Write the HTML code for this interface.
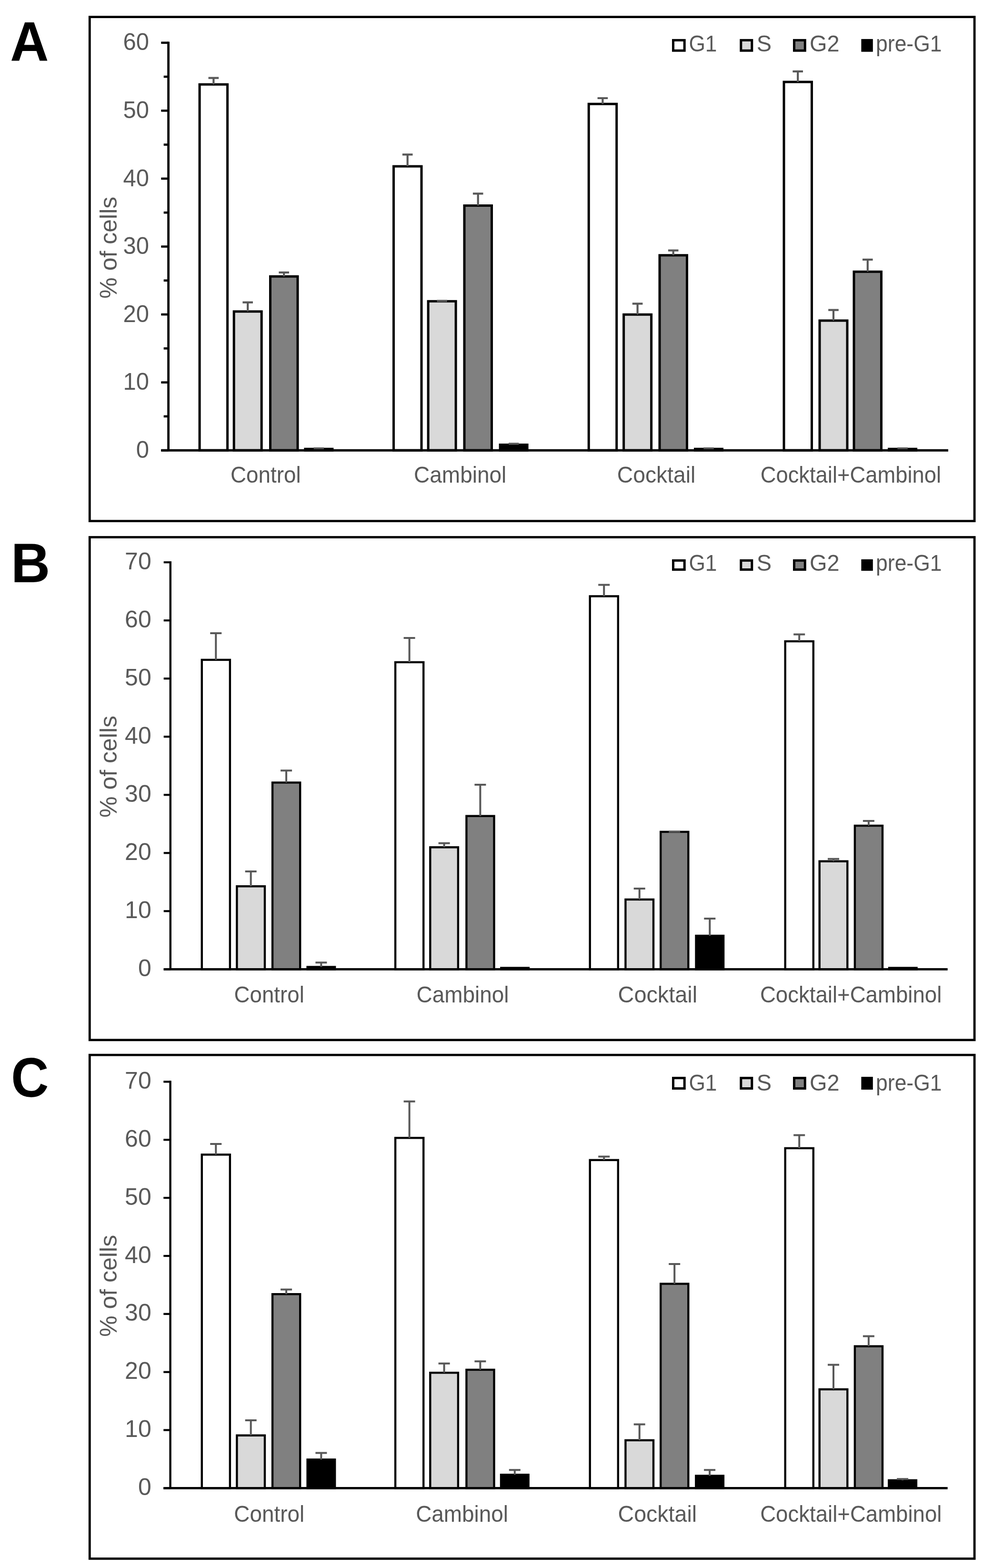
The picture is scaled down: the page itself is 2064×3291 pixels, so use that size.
<!DOCTYPE html>
<html><head><meta charset="utf-8"><title>Cell cycle distribution</title>
<style>html,body{margin:0;padding:0;background:#fff}svg{display:block}text{font-family:"Liberation Sans",Arial,sans-serif}</style>
</head><body>
<svg width="2064" height="3291" viewBox="0 0 2064 3291">
<rect width="2064" height="3291" fill="#fff"/>
<rect x="188.3" y="35.6" width="1857.8" height="1058.0" fill="none" stroke="#000" stroke-width="4.8"/>
<text x="21.3" y="127.7" font-size="116" font-weight="bold" textLength="81.2" lengthAdjust="spacingAndGlyphs" fill="#000">A</text>
<rect x="419.1" y="177.2" width="58.5" height="768.0" fill="#ffffff" stroke="#000" stroke-width="5.0"/>
<rect x="491.2" y="653.8" width="58.0" height="291.4" fill="#d9d9d9" stroke="#000" stroke-width="5.0"/>
<rect x="567.5" y="580.2" width="57.5" height="365.0" fill="#808080" stroke="#000" stroke-width="5.0"/>
<rect x="640.9" y="942.3" width="57.0" height="2.9" fill="#000000" stroke="#000" stroke-width="5.0"/>
<rect x="826.5" y="349.1" width="58.5" height="596.1" fill="#ffffff" stroke="#000" stroke-width="5.0"/>
<rect x="899.1" y="632.3" width="58.0" height="312.9" fill="#d9d9d9" stroke="#000" stroke-width="5.0"/>
<rect x="975.0" y="431.5" width="57.5" height="513.7" fill="#808080" stroke="#000" stroke-width="5.0"/>
<rect x="1050.1" y="933.5" width="57.0" height="11.7" fill="#000000" stroke="#000" stroke-width="5.0"/>
<rect x="1236.2" y="218.2" width="58.5" height="727.0" fill="#ffffff" stroke="#000" stroke-width="5.0"/>
<rect x="1309.6" y="660.2" width="58.0" height="285.0" fill="#d9d9d9" stroke="#000" stroke-width="5.0"/>
<rect x="1385.0" y="535.8" width="57.5" height="409.4" fill="#808080" stroke="#000" stroke-width="5.0"/>
<rect x="1459.5" y="942.3" width="57.0" height="2.9" fill="#000000" stroke="#000" stroke-width="5.0"/>
<rect x="1646.0" y="172.0" width="58.5" height="773.2" fill="#ffffff" stroke="#000" stroke-width="5.0"/>
<rect x="1721.0" y="672.9" width="58.0" height="272.3" fill="#d9d9d9" stroke="#000" stroke-width="5.0"/>
<rect x="1793.0" y="570.3" width="57.5" height="374.9" fill="#808080" stroke="#000" stroke-width="5.0"/>
<rect x="1866.6" y="942.3" width="57.0" height="2.9" fill="#000000" stroke="#000" stroke-width="5.0"/>
<path d="M448.4 177.2V163.7M437.6 163.7H459.2" stroke="#585858" stroke-width="4.2" fill="none"/>
<path d="M520.2 653.8V634.6M509.4 634.6H531.0" stroke="#585858" stroke-width="4.2" fill="none"/>
<path d="M596.2 580.2V571.9M585.4 571.9H607.0" stroke="#585858" stroke-width="4.2" fill="none"/>
<path d="M669.4 942.3V941.0M658.6 941.0H680.2" stroke="#585858" stroke-width="4.2" fill="none"/>
<path d="M855.7 349.1V324.3M844.9 324.3H866.5" stroke="#585858" stroke-width="4.2" fill="none"/>
<path d="M928.1 632.3V631.7M917.3 631.7H938.9" stroke="#585858" stroke-width="4.2" fill="none"/>
<path d="M1003.7 431.5V406.3M992.9 406.3H1014.5" stroke="#585858" stroke-width="4.2" fill="none"/>
<path d="M1078.6 933.5V931.4M1067.8 931.4H1089.4" stroke="#585858" stroke-width="4.2" fill="none"/>
<path d="M1265.4 218.2V206.0M1254.6 206.0H1276.2" stroke="#585858" stroke-width="4.2" fill="none"/>
<path d="M1338.6 660.2V637.3M1327.8 637.3H1349.4" stroke="#585858" stroke-width="4.2" fill="none"/>
<path d="M1413.7 535.8V525.7M1402.9 525.7H1424.5" stroke="#585858" stroke-width="4.2" fill="none"/>
<path d="M1488.0 942.3V941.0M1477.2 941.0H1498.8" stroke="#585858" stroke-width="4.2" fill="none"/>
<path d="M1675.2 172.0V149.8M1664.4 149.8H1686.0" stroke="#585858" stroke-width="4.2" fill="none"/>
<path d="M1750.0 672.9V650.6M1739.2 650.6H1760.8" stroke="#585858" stroke-width="4.2" fill="none"/>
<path d="M1821.8 570.3V544.9M1811.0 544.9H1832.6" stroke="#585858" stroke-width="4.2" fill="none"/>
<path d="M1895.1 942.3V941.0M1884.3 941.0H1905.9" stroke="#585858" stroke-width="4.2" fill="none"/>
<path d="M353.6 87.4V945.2" stroke="#000" stroke-width="4.8"/>
<path d="M338.3 945.2H1991" stroke="#000" stroke-width="5.0"/>
<path d="M338.3 945.2H353.6" stroke="#000" stroke-width="4.6"/>
<text x="285.7" y="960.8" font-size="50" textLength="27.3" lengthAdjust="spacingAndGlyphs" fill="#595959">0</text>
<path d="M343.7 873.9H353.6" stroke="#000" stroke-width="4.6"/>
<path d="M338.3 802.6H353.6" stroke="#000" stroke-width="4.6"/>
<text x="258.4" y="818.2" font-size="50" textLength="54.5" lengthAdjust="spacingAndGlyphs" fill="#595959">10</text>
<path d="M343.7 731.3H353.6" stroke="#000" stroke-width="4.6"/>
<path d="M338.3 660.0H353.6" stroke="#000" stroke-width="4.6"/>
<text x="258.4" y="675.6" font-size="50" textLength="54.5" lengthAdjust="spacingAndGlyphs" fill="#595959">20</text>
<path d="M343.7 588.7H353.6" stroke="#000" stroke-width="4.6"/>
<path d="M338.3 517.5H353.6" stroke="#000" stroke-width="4.6"/>
<text x="258.4" y="533.1" font-size="50" textLength="54.5" lengthAdjust="spacingAndGlyphs" fill="#595959">30</text>
<path d="M343.7 446.2H353.6" stroke="#000" stroke-width="4.6"/>
<path d="M338.3 374.9H353.6" stroke="#000" stroke-width="4.6"/>
<text x="258.4" y="390.5" font-size="50" textLength="54.5" lengthAdjust="spacingAndGlyphs" fill="#595959">40</text>
<path d="M343.7 303.6H353.6" stroke="#000" stroke-width="4.6"/>
<path d="M338.3 232.3H353.6" stroke="#000" stroke-width="4.6"/>
<text x="258.4" y="247.9" font-size="50" textLength="54.5" lengthAdjust="spacingAndGlyphs" fill="#595959">50</text>
<path d="M343.7 161.0H353.6" stroke="#000" stroke-width="4.6"/>
<path d="M338.3 89.7H353.6" stroke="#000" stroke-width="4.6"/>
<text x="258.4" y="105.3" font-size="50" textLength="54.5" lengthAdjust="spacingAndGlyphs" fill="#595959">60</text>
<g transform="translate(245.0 519.9) rotate(-90)">
<text x="-106.8" y="0.0" font-size="50" fill="#595959">% of cells</text>
</g>
<text x="483.9" y="1013.2" font-size="48" textLength="147.7" lengthAdjust="spacingAndGlyphs" fill="#595959">Control</text>
<text x="869.1" y="1013.2" font-size="48" textLength="194.2" lengthAdjust="spacingAndGlyphs" fill="#595959">Cambinol</text>
<text x="1295.8" y="1013.2" font-size="48" textLength="164.4" lengthAdjust="spacingAndGlyphs" fill="#595959">Cocktail</text>
<text x="1596.7" y="1013.2" font-size="48" textLength="379.3" lengthAdjust="spacingAndGlyphs" fill="#595959">Cocktail+Cambinol</text>
<rect x="1413.5" y="84.4" width="23.7" height="21.8" fill="#ffffff" stroke="#000" stroke-width="5.0"/>
<rect x="1555.8" y="84.4" width="23.0" height="21.8" fill="#d9d9d9" stroke="#000" stroke-width="5.0"/>
<rect x="1667.5" y="84.4" width="22.8" height="21.8" fill="#808080" stroke="#000" stroke-width="5.0"/>
<rect x="1810.9" y="84.4" width="19.4" height="21.8" fill="#000000" stroke="#000" stroke-width="5.0"/>
<text x="1446.4" y="108.4" font-size="48" textLength="59.0" lengthAdjust="spacingAndGlyphs" fill="#595959">G1</text>
<text x="1588.7" y="108.4" font-size="48" textLength="31.3" lengthAdjust="spacingAndGlyphs" fill="#595959">S</text>
<text x="1699.9" y="108.4" font-size="48" textLength="62.6" lengthAdjust="spacingAndGlyphs" fill="#595959">G2</text>
<text x="1839.1" y="108.4" font-size="48" textLength="138.4" lengthAdjust="spacingAndGlyphs" fill="#595959">pre-G1</text>
<rect x="188.3" y="1127.5" width="1857.8" height="1055.3" fill="none" stroke="#000" stroke-width="4.8"/>
<text x="23.0" y="1222.2" font-size="116" font-weight="bold" textLength="82.2" lengthAdjust="spacingAndGlyphs" fill="#000">B</text>
<rect x="423.8" y="1384.9" width="59.1" height="649.4" fill="#ffffff" stroke="#000" stroke-width="4.4"/>
<rect x="497.4" y="1860.2" width="58.6" height="174.1" fill="#d9d9d9" stroke="#000" stroke-width="4.4"/>
<rect x="572.1" y="1642.5" width="58.1" height="391.8" fill="#808080" stroke="#000" stroke-width="4.4"/>
<rect x="645.6" y="2029.5" width="57.6" height="4.8" fill="#000000" stroke="#000" stroke-width="4.4"/>
<rect x="830.1" y="1389.9" width="59.1" height="644.4" fill="#ffffff" stroke="#000" stroke-width="4.4"/>
<rect x="903.3" y="1778.3" width="58.6" height="256.0" fill="#d9d9d9" stroke="#000" stroke-width="4.4"/>
<rect x="979.4" y="1712.7" width="58.1" height="321.6" fill="#808080" stroke="#000" stroke-width="4.4"/>
<rect x="1052.3" y="2031.5" width="57.6" height="2.8" fill="#000000" stroke="#000" stroke-width="4.4"/>
<rect x="1238.7" y="1251.4" width="59.1" height="782.9" fill="#ffffff" stroke="#000" stroke-width="4.4"/>
<rect x="1313.4" y="1887.9" width="58.6" height="146.4" fill="#d9d9d9" stroke="#000" stroke-width="4.4"/>
<rect x="1387.2" y="1745.9" width="58.1" height="288.4" fill="#808080" stroke="#000" stroke-width="4.4"/>
<rect x="1461.5" y="1964.0" width="57.6" height="70.3" fill="#000000" stroke="#000" stroke-width="4.4"/>
<rect x="1648.7" y="1346.0" width="59.1" height="688.3" fill="#ffffff" stroke="#000" stroke-width="4.4"/>
<rect x="1720.7" y="1807.7" width="58.6" height="226.6" fill="#d9d9d9" stroke="#000" stroke-width="4.4"/>
<rect x="1794.9" y="1733.0" width="58.1" height="301.3" fill="#808080" stroke="#000" stroke-width="4.4"/>
<rect x="1867.0" y="2031.5" width="57.6" height="2.8" fill="#000000" stroke="#000" stroke-width="4.4"/>
<path d="M453.3 1384.9V1328.9M441.3 1328.9H465.3" stroke="#585858" stroke-width="4.0" fill="none"/>
<path d="M526.7 1860.2V1828.9M514.7 1828.9H538.7" stroke="#585858" stroke-width="4.0" fill="none"/>
<path d="M601.1 1642.5V1617.3M589.1 1617.3H613.1" stroke="#585858" stroke-width="4.0" fill="none"/>
<path d="M674.4 2029.5V2020.3M662.4 2020.3H686.4" stroke="#585858" stroke-width="4.0" fill="none"/>
<path d="M859.6 1389.9V1339.1M847.6 1339.1H871.6" stroke="#585858" stroke-width="4.0" fill="none"/>
<path d="M932.6 1778.3V1769.8M920.6 1769.8H944.6" stroke="#585858" stroke-width="4.0" fill="none"/>
<path d="M1008.4 1712.7V1647.1M996.4 1647.1H1020.4" stroke="#585858" stroke-width="4.0" fill="none"/>
<path d="M1268.2 1251.4V1227.6M1256.2 1227.6H1280.2" stroke="#585858" stroke-width="4.0" fill="none"/>
<path d="M1342.7 1887.9V1864.9M1330.7 1864.9H1354.7" stroke="#585858" stroke-width="4.0" fill="none"/>
<path d="M1416.2 1745.9V1745.4M1404.2 1745.4H1428.2" stroke="#585858" stroke-width="4.0" fill="none"/>
<path d="M1490.3 1964.0V1928.1M1478.3 1928.1H1502.3" stroke="#585858" stroke-width="4.0" fill="none"/>
<path d="M1678.2 1346.0V1331.6M1666.2 1331.6H1690.2" stroke="#585858" stroke-width="4.0" fill="none"/>
<path d="M1750.0 1807.7V1802.7M1738.0 1802.7H1762.0" stroke="#585858" stroke-width="4.0" fill="none"/>
<path d="M1823.9 1733.0V1723.1M1811.9 1723.1H1835.9" stroke="#585858" stroke-width="4.0" fill="none"/>
<path d="M357.8 1178.1V2034.3" stroke="#000" stroke-width="4.4"/>
<path d="M343.7 2034.3H1989.7" stroke="#000" stroke-width="4.7"/>
<path d="M343.7 2034.3H357.8" stroke="#000" stroke-width="4.2"/>
<text x="289.9" y="2048.8" font-size="50" fill="#595959">0</text>
<path d="M343.7 1912.3H357.8" stroke="#000" stroke-width="4.2"/>
<text x="262.1" y="1926.8" font-size="50" fill="#595959">10</text>
<path d="M343.7 1790.3H357.8" stroke="#000" stroke-width="4.2"/>
<text x="262.1" y="1804.8" font-size="50" fill="#595959">20</text>
<path d="M343.7 1668.3H357.8" stroke="#000" stroke-width="4.2"/>
<text x="262.1" y="1682.8" font-size="50" fill="#595959">30</text>
<path d="M343.7 1546.2H357.8" stroke="#000" stroke-width="4.2"/>
<text x="262.1" y="1560.7" font-size="50" fill="#595959">40</text>
<path d="M343.7 1424.2H357.8" stroke="#000" stroke-width="4.2"/>
<text x="262.1" y="1438.7" font-size="50" fill="#595959">50</text>
<path d="M343.7 1302.2H357.8" stroke="#000" stroke-width="4.2"/>
<text x="262.1" y="1316.7" font-size="50" fill="#595959">60</text>
<path d="M343.7 1180.2H357.8" stroke="#000" stroke-width="4.2"/>
<text x="262.1" y="1194.7" font-size="50" fill="#595959">70</text>
<g transform="translate(245.0 1609.1) rotate(-90)">
<text x="-106.8" y="0.0" font-size="50" fill="#595959">% of cells</text>
</g>
<text x="491.6" y="2103.5" font-size="48" textLength="147.2" lengthAdjust="spacingAndGlyphs" fill="#595959">Control</text>
<text x="874.6" y="2103.5" font-size="48" textLength="193.8" lengthAdjust="spacingAndGlyphs" fill="#595959">Cambinol</text>
<text x="1297.6" y="2103.5" font-size="48" textLength="166.5" lengthAdjust="spacingAndGlyphs" fill="#595959">Cocktail</text>
<text x="1595.9" y="2103.5" font-size="48" textLength="381.4" lengthAdjust="spacingAndGlyphs" fill="#595959">Cocktail+Cambinol</text>
<rect x="1413.5" y="1176.4" width="23.7" height="19.1" fill="#ffffff" stroke="#000" stroke-width="5.0"/>
<rect x="1555.8" y="1176.4" width="23.0" height="19.1" fill="#d9d9d9" stroke="#000" stroke-width="5.0"/>
<rect x="1667.5" y="1176.4" width="22.8" height="19.1" fill="#808080" stroke="#000" stroke-width="5.0"/>
<rect x="1810.9" y="1176.4" width="19.4" height="19.1" fill="#000000" stroke="#000" stroke-width="5.0"/>
<text x="1446.4" y="1197.7" font-size="48" textLength="59.0" lengthAdjust="spacingAndGlyphs" fill="#595959">G1</text>
<text x="1588.7" y="1197.7" font-size="48" textLength="31.3" lengthAdjust="spacingAndGlyphs" fill="#595959">S</text>
<text x="1699.9" y="1197.7" font-size="48" textLength="62.6" lengthAdjust="spacingAndGlyphs" fill="#595959">G2</text>
<text x="1839.1" y="1197.7" font-size="48" textLength="138.4" lengthAdjust="spacingAndGlyphs" fill="#595959">pre-G1</text>
<rect x="188.3" y="2214.2" width="1857.8" height="1057.2" fill="none" stroke="#000" stroke-width="4.8"/>
<text x="23.3" y="2302.2" font-size="116" font-weight="bold" textLength="79.1" lengthAdjust="spacingAndGlyphs" fill="#000">C</text>
<rect x="423.8" y="2423.4" width="59.1" height="700.0" fill="#ffffff" stroke="#000" stroke-width="4.4"/>
<rect x="497.4" y="3012.7" width="58.6" height="110.7" fill="#d9d9d9" stroke="#000" stroke-width="4.4"/>
<rect x="572.1" y="2716.2" width="58.1" height="407.2" fill="#808080" stroke="#000" stroke-width="4.4"/>
<rect x="645.6" y="3063.4" width="57.6" height="60.0" fill="#000000" stroke="#000" stroke-width="4.4"/>
<rect x="830.1" y="2388.3" width="59.1" height="735.1" fill="#ffffff" stroke="#000" stroke-width="4.4"/>
<rect x="903.3" y="2881.2" width="58.6" height="242.2" fill="#d9d9d9" stroke="#000" stroke-width="4.4"/>
<rect x="979.4" y="2874.9" width="58.1" height="248.5" fill="#808080" stroke="#000" stroke-width="4.4"/>
<rect x="1052.0" y="3095.3" width="57.6" height="28.1" fill="#000000" stroke="#000" stroke-width="4.4"/>
<rect x="1238.7" y="2434.8" width="59.1" height="688.6" fill="#ffffff" stroke="#000" stroke-width="4.4"/>
<rect x="1313.4" y="3022.9" width="58.6" height="100.5" fill="#d9d9d9" stroke="#000" stroke-width="4.4"/>
<rect x="1387.2" y="2694.5" width="58.1" height="428.9" fill="#808080" stroke="#000" stroke-width="4.4"/>
<rect x="1461.3" y="3097.5" width="57.6" height="25.9" fill="#000000" stroke="#000" stroke-width="4.4"/>
<rect x="1648.7" y="2409.9" width="59.1" height="713.5" fill="#ffffff" stroke="#000" stroke-width="4.4"/>
<rect x="1720.7" y="2916.0" width="58.6" height="207.4" fill="#d9d9d9" stroke="#000" stroke-width="4.4"/>
<rect x="1794.9" y="2825.6" width="58.1" height="297.8" fill="#808080" stroke="#000" stroke-width="4.4"/>
<rect x="1866.3" y="3106.9" width="57.6" height="16.5" fill="#000000" stroke="#000" stroke-width="4.4"/>
<path d="M453.3 2423.4V2401.1M441.3 2401.1H465.3" stroke="#585858" stroke-width="4.0" fill="none"/>
<path d="M526.7 3012.7V2980.9M514.7 2980.9H538.7" stroke="#585858" stroke-width="4.0" fill="none"/>
<path d="M601.1 2716.2V2706.5M589.1 2706.5H613.1" stroke="#585858" stroke-width="4.0" fill="none"/>
<path d="M674.4 3063.4V3049.4M662.4 3049.4H686.4" stroke="#585858" stroke-width="4.0" fill="none"/>
<path d="M859.6 2388.3V2311.7M847.6 2311.7H871.6" stroke="#585858" stroke-width="4.0" fill="none"/>
<path d="M932.6 2881.2V2861.8M920.6 2861.8H944.6" stroke="#585858" stroke-width="4.0" fill="none"/>
<path d="M1008.4 2874.9V2857.2M996.4 2857.2H1020.4" stroke="#585858" stroke-width="4.0" fill="none"/>
<path d="M1080.8 3095.3V3085.2M1068.8 3085.2H1092.8" stroke="#585858" stroke-width="4.0" fill="none"/>
<path d="M1268.2 2434.8V2427.6M1256.2 2427.6H1280.2" stroke="#585858" stroke-width="4.0" fill="none"/>
<path d="M1342.7 3022.9V2989.6M1330.7 2989.6H1354.7" stroke="#585858" stroke-width="4.0" fill="none"/>
<path d="M1416.2 2694.5V2653.1M1404.2 2653.1H1428.2" stroke="#585858" stroke-width="4.0" fill="none"/>
<path d="M1490.1 3097.5V3085.2M1478.1 3085.2H1502.1" stroke="#585858" stroke-width="4.0" fill="none"/>
<path d="M1678.2 2409.9V2382.4M1666.2 2382.4H1690.2" stroke="#585858" stroke-width="4.0" fill="none"/>
<path d="M1750.0 2916.0V2864.4M1738.0 2864.4H1762.0" stroke="#585858" stroke-width="4.0" fill="none"/>
<path d="M1823.9 2825.6V2804.5M1811.9 2804.5H1835.9" stroke="#585858" stroke-width="4.0" fill="none"/>
<path d="M1895.1 3106.9V3104.2M1883.1 3104.2H1907.1" stroke="#585858" stroke-width="4.0" fill="none"/>
<path d="M357.6 2268.3V3123.4" stroke="#000" stroke-width="4.4"/>
<path d="M343.3 3123.4H1989.7" stroke="#000" stroke-width="4.7"/>
<path d="M343.3 3123.4H357.6" stroke="#000" stroke-width="4.2"/>
<text x="289.9" y="3137.9" font-size="50" fill="#595959">0</text>
<path d="M343.3 3001.5H357.6" stroke="#000" stroke-width="4.2"/>
<text x="262.1" y="3016.0" font-size="50" fill="#595959">10</text>
<path d="M343.3 2879.7H357.6" stroke="#000" stroke-width="4.2"/>
<text x="262.1" y="2894.2" font-size="50" fill="#595959">20</text>
<path d="M343.3 2757.8H357.6" stroke="#000" stroke-width="4.2"/>
<text x="262.1" y="2772.3" font-size="50" fill="#595959">30</text>
<path d="M343.3 2636.0H357.6" stroke="#000" stroke-width="4.2"/>
<text x="262.1" y="2650.5" font-size="50" fill="#595959">40</text>
<path d="M343.3 2514.1H357.6" stroke="#000" stroke-width="4.2"/>
<text x="262.1" y="2528.6" font-size="50" fill="#595959">50</text>
<path d="M343.3 2392.3H357.6" stroke="#000" stroke-width="4.2"/>
<text x="262.1" y="2406.8" font-size="50" fill="#595959">60</text>
<path d="M343.3 2270.4H357.6" stroke="#000" stroke-width="4.2"/>
<text x="262.1" y="2284.9" font-size="50" fill="#595959">70</text>
<g transform="translate(245.0 2699.0) rotate(-90)">
<text x="-106.8" y="0.0" font-size="50" fill="#595959">% of cells</text>
</g>
<text x="491.3" y="3193.6" font-size="48" textLength="148.0" lengthAdjust="spacingAndGlyphs" fill="#595959">Control</text>
<text x="873.2" y="3193.6" font-size="48" textLength="193.8" lengthAdjust="spacingAndGlyphs" fill="#595959">Cambinol</text>
<text x="1297.6" y="3193.6" font-size="48" textLength="165.5" lengthAdjust="spacingAndGlyphs" fill="#595959">Cocktail</text>
<text x="1596.2" y="3193.6" font-size="48" textLength="381.2" lengthAdjust="spacingAndGlyphs" fill="#595959">Cocktail+Cambinol</text>
<rect x="1413.5" y="2262.6" width="23.7" height="21.9" fill="#ffffff" stroke="#000" stroke-width="5.0"/>
<rect x="1555.8" y="2262.6" width="23.0" height="21.9" fill="#d9d9d9" stroke="#000" stroke-width="5.0"/>
<rect x="1667.5" y="2262.6" width="22.8" height="21.9" fill="#808080" stroke="#000" stroke-width="5.0"/>
<rect x="1810.9" y="2262.6" width="19.4" height="21.9" fill="#000000" stroke="#000" stroke-width="5.0"/>
<text x="1446.4" y="2289.0" font-size="48" textLength="59.0" lengthAdjust="spacingAndGlyphs" fill="#595959">G1</text>
<text x="1588.7" y="2289.0" font-size="48" textLength="31.3" lengthAdjust="spacingAndGlyphs" fill="#595959">S</text>
<text x="1699.9" y="2289.0" font-size="48" textLength="62.6" lengthAdjust="spacingAndGlyphs" fill="#595959">G2</text>
<text x="1839.1" y="2289.0" font-size="48" textLength="138.4" lengthAdjust="spacingAndGlyphs" fill="#595959">pre-G1</text>
</svg>
</body></html>
